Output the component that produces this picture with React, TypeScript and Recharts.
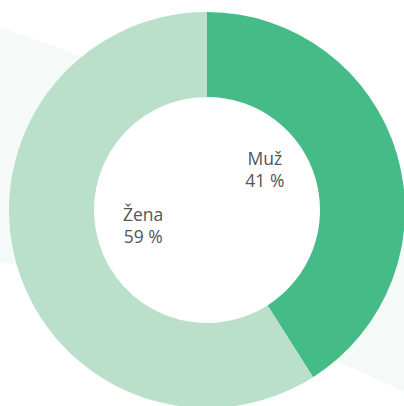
import { PieChart, Pie, Cell } from 'recharts';

// gender split
const names = ['Muž', 'Žena'];
const shares = [41, 59];
const colors = ['#45BC87', '#BAE0CB'];

// where each label's first line sits relative to the slice centroid direction
const labelShift: Record<string, { dx: number; dy: number }> = {
  'Muž': { dx: -4, dy: -27 },
  'Žena': { dx: -2, dy: -7 },
};

const data = names.map((name, i) => ({ name, value: shares[i] }));

const RADIAN = Math.PI / 180;

function renderLabel(props: any) {
  const { cx, cy, midAngle, innerRadius, name, value } = props;
  const r = innerRadius * 0.57;
  const shift = labelShift[name] || { dx: 0, dy: 0 };
  const x = cx + r * Math.cos(-midAngle * RADIAN) + shift.dx;
  const y = cy + r * Math.sin(-midAngle * RADIAN) + shift.dy;
  return (
    <text
      x={x}
      y={y}
      textAnchor="middle"
      fill="#555"
      fontSize={17.5}
      fontFamily="'Open Sans', sans-serif"
    >
      <tspan x={x} dy={0}>{name}</tspan>
      <tspan x={x} dy={22}>{`${value} %`}</tspan>
    </text>
  );
}

export default function App() {
  return (
    <div style={{ position: 'absolute', left: 0, top: 0, width: 404, height: 406, overflow: 'hidden', background: '#fff' }}>
      {/* faint decorative band behind the donut, the hole stays white */}
      <svg width={404} height={406} style={{ position: 'absolute', left: 0, top: 0 }}>
        <path d="M0,27 Q278,124 404,200 L404,392 Q162,278 0,262 Z" fill="#F5FAF8" />
        <circle cx={207} cy={210} r={114} fill="#fff" />
      </svg>
      <div style={{ position: 'absolute', left: 0, top: 0 }}>
        <PieChart width={404} height={406} margin={{ top: 0, right: 0, bottom: 0, left: 0 }}>
          <Pie
            data={data}
            dataKey="value"
            nameKey="name"
            cx={207}
            cy={210}
            innerRadius={113}
            outerRadius={198}
            startAngle={90}
            endAngle={-270}
            stroke="none"
            labelLine={false}
            label={renderLabel}
            isAnimationActive={false}
          >
            {data.map((d, i) => (
              <Cell key={d.name} fill={colors[i]} />
            ))}
          </Pie>
        </PieChart>
      </div>
    </div>
  );
}
